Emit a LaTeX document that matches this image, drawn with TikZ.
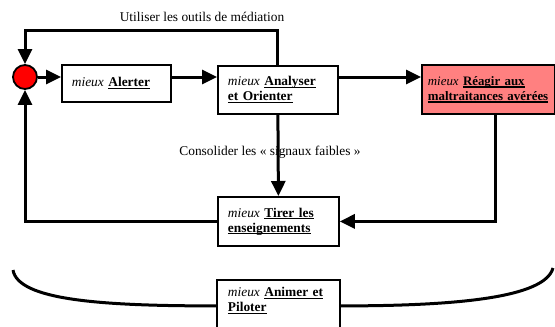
\documentclass[tikz,border=0pt]{standalone}
\usepackage{fontspec}
\setmainfont{Liberation Serif}
\usetikzlibrary{arrows.meta,calc}
\definecolor{pinkfill}{RGB}{255,128,128}
\newsavebox{\myulbox}
\newcommand{\ulb}[1]{\leavevmode\sbox{\myulbox}{\textbf{#1}}\rlap{\rule[-2.4pt]{\wd\myulbox}{1.1pt}}\usebox{\myulbox}}
\begin{document}
\begin{tikzpicture}[x=1pt,y=-1pt,
  box/.style={draw, line width=1.8pt, anchor=north west, align=left, inner xsep=10pt, inner ysep=0pt, font=\fontsize{13.4}{15}\selectfont},
  conn/.style={line width=3pt, -{Triangle[length=15pt,width=14pt]}},
  plain/.style={line width=3pt},
  lbl/.style={font=\fontsize{13.4}{15}\selectfont, inner sep=0pt}]
\useasboundingbox (0,0) rectangle (555,327);
\node[circle, draw, line width=1.8pt, fill=red, minimum size=24pt, inner sep=0pt] (c) at (25,77) {};
\node[box, text width=89pt, minimum height=37pt] (al) at (61,64) {\textit{mieux} \ulb{Alerter}};
\node[box, text width=100pt, minimum height=48pt] (an) at (217,65) {\textit{mieux} \ulb{Analyser}\\\ulb{et Orienter}};
\node[box, fill=pinkfill, inner xsep=6pt, text width=121pt, minimum height=49pt, font=\fontsize{12.9}{15}\selectfont] (re) at (421,64) {\textit{mieux} \ulb{Réagir aux}\\\ulb{maltraitances avérées}};
\node[box, text width=101pt, minimum height=49pt] (ti) at (217,196) {\textit{mieux} \ulb{Tirer les}\\\ulb{enseignements}};
\node[box, draw=none, text width=101pt, minimum height=40pt] (pi) at (217,280) {\textit{mieux} \ulb{Animer et}\\\ulb{Piloter}};
\draw[line width=1.8pt] ([yshift=-20pt]pi.south west) -- (pi.north west) -- (pi.north east) -- ([yshift=-20pt]pi.south east);

\node[lbl] (l1) at (202,17) {Utiliser les outils de médiation};
\node[lbl] (l2) at (270,152) {Consolider les « signaux faibles »};

\coordinate (tl) at (25,30);
\draw[conn] (c.east) -- (c.east -| al.west);
\draw[conn] (c.east -| al.east) -- (c.east -| an.west);
\draw[conn] (c.east -| an.east) -- (c.east -| re.west);
\draw[conn] (an.north) |- (tl) -- (c.north);
\draw[conn] (an.south) -- (ti.north);
\draw[conn] ([xshift=7pt]re.south) |- (ti.east);
\draw[conn] (ti.west) -| (c.south);

\draw[plain] ([yshift=-5pt]pi.west) .. controls (100,306) and (18,300) .. (13,270);
\draw[plain] ([yshift=-5pt]pi.east) .. controls (455,306) and (545,298) .. (553,268);
\end{tikzpicture}
\end{document}
